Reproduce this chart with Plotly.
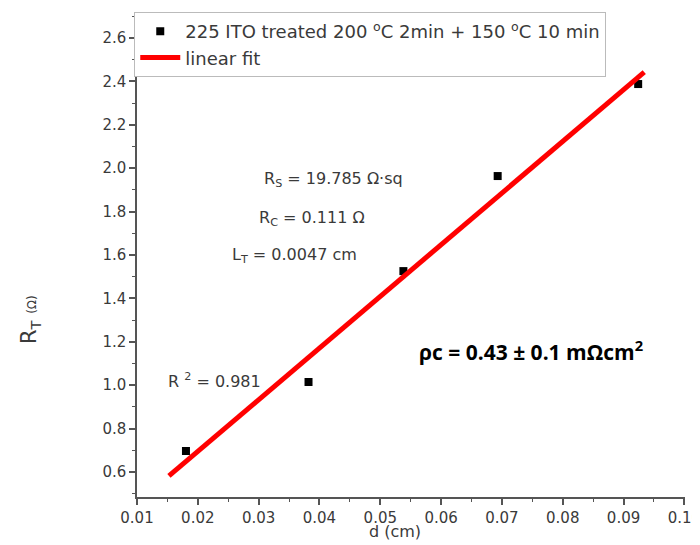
import plotly.graph_objects as go

# data
d_cm = [0.01805, 0.0382, 0.0538, 0.0693, 0.0924]
rt_ohm = [0.697, 1.015, 1.526, 1.964, 2.388]
fit_d = [0.01525, 0.0934]
fit_rt = [0.582, 2.443]
x_ticks = [0.01, 0.02, 0.03, 0.04, 0.05, 0.06, 0.07, 0.08, 0.09, 0.10]
y_ticks = [0.6, 0.8, 1.0, 1.2, 1.4, 1.6, 1.8, 2.0, 2.2, 2.4, 2.6]

FONT = "DejaVu Sans"
GRAY = "#3a3a3a"

fig = go.Figure()
fig.add_trace(go.Scatter(
    x=d_cm, y=rt_ohm, mode="markers",
    marker=dict(symbol="square", size=8, color="black"),
    name="225 ITO treated 200 <sup>o</sup>C 2min + 150 <sup>o</sup>C 10 min",
))
fig.add_trace(go.Scatter(
    x=fit_d, y=fit_rt, mode="lines",
    line=dict(color="#ff0000", width=5),
    name="linear fit",
))

axis_common = dict(
    showline=True, linecolor="#555555", linewidth=1.5,
    ticks="outside", ticklen=6, tickcolor="#555555", tickwidth=1.5,
    showgrid=False, zeroline=False,
    tickfont=dict(family=FONT, size=15, color=GRAY),
    automargin=False, ticklabeloverflow="allow",
)
fig.update_xaxes(
    range=[0.01, 0.1001], tickvals=x_ticks,
    ticktext=[f"{v:.2f}" for v in x_ticks],
    minor=dict(ticks="outside", ticklen=3, dtick=0.005, tick0=0.01,
               tickcolor="#555555", tickwidth=1.2),
    **axis_common,
)
fig.update_yaxes(
    range=[0.485, 2.72], tickvals=y_ticks,
    ticktext=[f"{v:.1f}" for v in y_ticks],
    minor=dict(ticks="outside", ticklen=3, dtick=0.1, tick0=0.5,
               tickcolor="#555555", tickwidth=1.2),
    **axis_common,
)

txt = dict(family=FONT, size=16, color=GRAY)
annotations = [
    dict(x=0.0305, y=1.946, text="R<sub>S</sub> = 19.785 Ω·sq"),
    dict(x=0.0297, y=1.770, text="R<sub>C</sub> = 0.111 Ω"),
    dict(x=0.02527, y=1.600, text="L<sub>T</sub> = 0.0047 cm"),
    dict(x=0.01476, y=1.024, text="R <sup>2</sup> = 0.981"),
]
for a in annotations:
    fig.add_annotation(xref="x", yref="y", xanchor="left", yanchor="middle",
                       showarrow=False, font=txt, **a)

fig.add_annotation(xref="x", yref="y", x=0.0561, y=1.162, xanchor="left",
                   yanchor="middle", showarrow=False,
                   text="<b>ρc = 0.43 ± 0.1 mΩcm<sup>2</sup></b>",
                   font=dict(family="Open Sans", size=21, color="black"))

fig.add_annotation(xref="paper", yref="paper", x=-0.195, y=0.365,
                   textangle=-90, showarrow=False, xanchor="center", yanchor="middle",
                   text="R<sub>T</sub> <span style='font-size:12px'>(Ω)</span>",
                   font=dict(family=FONT, size=21, color=GRAY))
fig.add_annotation(xref="paper", yref="paper", x=0.471, y=-0.072,
                   showarrow=False, xanchor="center", yanchor="middle",
                   text="d (cm)", font=dict(family=FONT, size=16, color=GRAY))

# page body has an 8px margin, so the figure is offset by (8, 8) in the window
fig.update_layout(
    width=692, height=537,
    margin=dict(l=129, r=15, t=4, b=48, autoexpand=False),
    paper_bgcolor="white", plot_bgcolor="white",
    showlegend=True,
    legend=dict(x=-0.005, y=1.0, xanchor="left", yanchor="top",
                bgcolor="white", bordercolor="#bbbbbb", borderwidth=1,
                font=dict(family=FONT, size=18, color=GRAY),
                tracegroupgap=0, itemwidth=40),
)

fig.write_html("out.html")
